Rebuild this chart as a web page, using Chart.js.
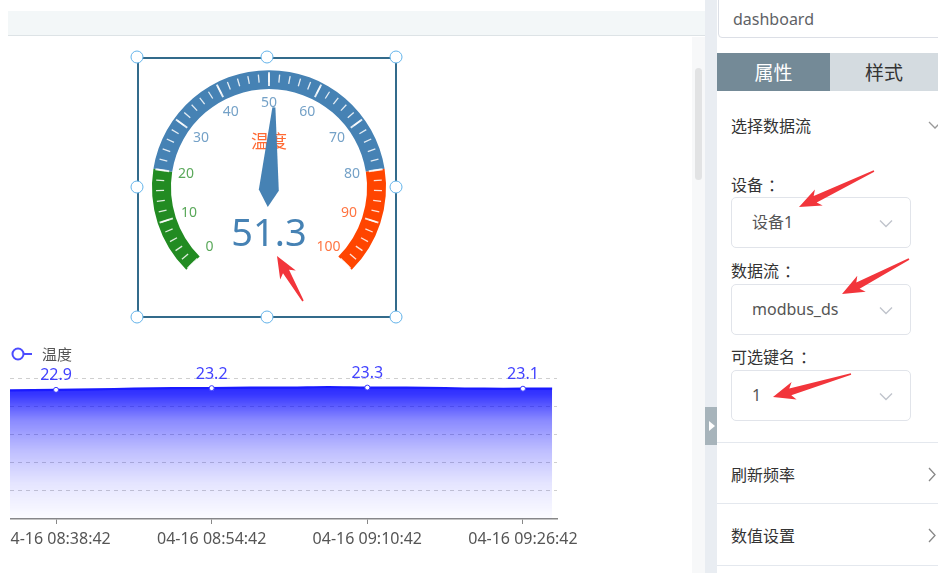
<!DOCTYPE html>
<html lang="zh">
<head>
<meta charset="UTF-8">
<title>dashboard</title>
<script src="https://cdn.jsdelivr.net/npm/chart.js"></script>
<style>
  * { margin: 0; padding: 0; box-sizing: border-box; }
  body {
    width: 938px; height: 573px; overflow: hidden; position: relative;
    background: #fff; color: #333;
    font-family: 'Noto Sans', 'Noto Sans CJK SC', sans-serif;
  }
  .abs { position: absolute; }
  .topbar { left: 8px; top: 11px; width: 697px; height: 25px; background: #f3f7f8; border-bottom: 1px solid #dde3e6; }
  .track { left: 692px; top: 37px; width: 13px; height: 536px; background: #f7f8f9; }
  .thumb { left: 695px; top: 68px; width: 7px; height: 112px; background: #e2e3e4; border-radius: 4px; }
  .gutter { left: 705px; top: 0; width: 12px; height: 573px; background: #e9edf2; }
  .fold { left: 705px; top: 407px; width: 12px; height: 38px; background: #a7b4bb; }
  .fold:after { content: ''; position: absolute; left: 4px; top: 14px; border-left: 6px solid #fff; border-top: 5px solid transparent; border-bottom: 5px solid transparent; }
  .panel { left: 717px; top: 0; width: 221px; height: 573px; background: #fff; }

  .name { left: 718px; top: -4px; width: 240px; height: 42px; border: 1px solid #dcdfe6; border-radius: 4px;
    font-size: 16px; color: #606266; line-height: 44px; padding-left: 14px; }
  .tab { top: 53px; height: 38px; line-height: 38px; text-align: center; font-size: 19px;
    font-family: 'Noto Sans CJK SC', sans-serif; }
  .tab.on { left: 717px; width: 113px; background: #748a97; color: #fff; }
  .tab.off { left: 830px; width: 108px; background: #d4dbe0; color: #333; }
  .lbl { left: 731px; font-size: 16px; line-height: 20px; color: #333; font-family: 'Noto Sans CJK SC', sans-serif; }
  .lbl i { font-style: normal; margin-left: 5px; }
  .sel { left: 731px; width: 180px; height: 51px; border: 1px solid #e1e4ea; border-radius: 5px;
    font-size: 16px; color: #555; line-height: 49px; padding-left: 20px; font-family: 'Noto Sans', 'Noto Sans CJK SC', sans-serif; }
  .sel svg { position: absolute; right: 17px; top: 21px; }
  .hr { left: 717px; width: 221px; height: 1px; background: #e4e8ee; }

  .box { left: 137px; top: 57px; width: 260px; height: 261px; border: 2px solid #336b8b; }
  .handle { width: 13px; height: 13px; border-radius: 50%; background: #fff; border: 1.6px solid #63b3ea; transform: translate(-50%, -50%); }
  #gaugeWrap { left: 140px; top: 41px; width: 258px; height: 258px; }
  #lineClip { left: 10px; top: 335px; width: 590px; height: 230px; overflow: hidden; }
  #lineWrap { position: absolute; left: -30px; top: 0; width: 620px; height: 230px; }
  #arrows { left: 0; top: 0; }
</style>
</head>
<body>
  <div class="abs topbar"></div>
  <div class="abs track"></div>
  <div class="abs thumb"></div>
  <div class="abs gutter"></div>
  <div class="abs fold"></div>
  <div class="abs panel"></div>

  <div class="abs name">dashboard</div>
  <div class="abs tab on">属性</div>
  <div class="abs tab off">样式</div>

  <div class="abs lbl" style="top:115px">选择数据流</div>
  <svg class="abs" style="left:928px;top:120px" width="14" height="10"><polyline points="1,2 7,8 13,2" fill="none" stroke="#999" stroke-width="1.3"/></svg>

  <div class="abs lbl" style="top:174px">设备<i>：</i></div>
  <div class="abs sel" style="top:197px">设备1<svg width="14" height="9"><polyline points="1,1.5 7,7.5 13,1.5" fill="none" stroke="#c0c4cc" stroke-width="1.4"/></svg></div>

  <div class="abs lbl" style="top:260px">数据流<i>：</i></div>
  <div class="abs sel" style="top:284px">modbus_ds<svg width="14" height="9"><polyline points="1,1.5 7,7.5 13,1.5" fill="none" stroke="#c0c4cc" stroke-width="1.4"/></svg></div>

  <div class="abs lbl" style="top:346px">可选键名<i>：</i></div>
  <div class="abs sel" style="top:370px">1<svg width="14" height="9"><polyline points="1,1.5 7,7.5 13,1.5" fill="none" stroke="#c0c4cc" stroke-width="1.4"/></svg></div>

  <div class="abs hr" style="top:442px"></div>
  <div class="abs lbl" style="top:464px">刷新频率</div>
  <svg class="abs" style="left:927px;top:467px" width="9" height="15"><polyline points="2,1 8,7.5 2,14" fill="none" stroke="#888" stroke-width="1.3"/></svg>
  <div class="abs hr" style="top:503px"></div>
  <div class="abs lbl" style="top:525px">数值设置</div>
  <svg class="abs" style="left:927px;top:528px" width="9" height="15"><polyline points="2,1 8,7.5 2,14" fill="none" stroke="#888" stroke-width="1.3"/></svg>
  <div class="abs hr" style="top:565px"></div>

  <div class="abs box"></div>
  <div class="abs" id="gaugeWrap"><canvas id="gauge"></canvas></div>
  <div class="abs handle" style="left:137px;top:57px"></div>
  <div class="abs handle" style="left:267px;top:57px"></div>
  <div class="abs handle" style="left:396px;top:57px"></div>
  <div class="abs handle" style="left:137px;top:187px"></div>
  <div class="abs handle" style="left:396px;top:187px"></div>
  <div class="abs handle" style="left:137px;top:317px"></div>
  <div class="abs handle" style="left:267px;top:317px"></div>
  <div class="abs handle" style="left:396px;top:317px"></div>

  <div class="abs" id="lineClip"><div id="lineWrap"><canvas id="trend"></canvas></div></div>

  <svg class="abs" id="arrows" width="938" height="573"></svg>

<script>
// gauge
const gaugeBands = [20, 80, 100];
const gaugeColors = ['#228b22', '#4682b4', '#ff4500'];
const gaugeTicks = [0, 10, 20, 30, 40, 50, 60, 70, 80, 90, 100];
const gaugeValue = [51.3];
const gaugeTitle = '温度';

// trend line
const timeLabels = [
  '04-16 08:33:58', '04-16 08:38:42', '04-16 08:42:42', '04-16 08:46:42', '04-16 08:50:42',
  '04-16 08:54:42', '04-16 08:58:42', '04-16 09:02:42', '04-16 09:06:42', '04-16 09:10:42',
  '04-16 09:14:42', '04-16 09:18:42', '04-16 09:22:42', '04-16 09:26:42', '04-16 09:29:42'
];
const tempValues = [22.8, 22.9, 23.0, 23.1, 23.2, 23.2, 23.3, 23.3, 23.4, 23.3, 23.3, 23.2, 23.1, 23.1, 23.1];
const shownTimes = ['04-16 08:38:42', '04-16 08:54:42', '04-16 09:10:42', '04-16 09:26:42'];
const yTicks = [0, 5, 10, 15, 20, 25];

const bandSizes = gaugeBands.map((b, i) => b - (i ? gaugeBands[i - 1] : gaugeTicks[0]));

// "MM-DD hh:mm:ss" -> minutes of the day
const toMin = s => {
  const [h, m, sec] = s.split(' ')[1].split(':').map(Number);
  return h * 60 + m + sec / 60;
};
const points = tempValues.map((y, i) => ({ x: toMin(timeLabels[i]), y }));

// ticks, labels, needle, title and value on top of the doughnut
const gaugeDecor = {
  id: 'gaugeDecor',
  afterDatasetsDraw(chart) {
    const arcs = chart.getDatasetMeta(0).data;
    const a0 = arcs[0];
    const cx = a0.x, cy = a0.y, R = a0.outerRadius, r = a0.innerRadius;
    const start = a0.startAngle, end = arcs[arcs.length - 1].endAngle;
    const vmin = gaugeTicks[0], vmax = gaugeTicks[gaugeTicks.length - 1];
    const ang = v => start + (v - vmin) / (vmax - vmin) * (end - start);
    const ctx = chart.ctx;
    ctx.save();

    // minor ticks
    const minor = (gaugeTicks[1] - gaugeTicks[0]) / 5;
    ctx.strokeStyle = 'rgba(255,255,255,0.85)';
    ctx.lineWidth = 1.3;
    for (let v = vmin; v <= vmax + 1e-6; v += minor) {
      const a = ang(v);
      ctx.beginPath();
      ctx.moveTo(cx + Math.cos(a) * (R - 4), cy + Math.sin(a) * (R - 4));
      ctx.lineTo(cx + Math.cos(a) * (R - 12), cy + Math.sin(a) * (R - 12));
      ctx.stroke();
    }
    // major ticks
    ctx.lineWidth = 2;
    gaugeTicks.forEach(v => {
      const a = ang(v);
      ctx.beginPath();
      ctx.moveTo(cx + Math.cos(a) * (R - 2), cy + Math.sin(a) * (R - 2));
      ctx.lineTo(cx + Math.cos(a) * (r + 3), cy + Math.sin(a) * (r + 3));
      ctx.stroke();
    });

    // tick labels
    ctx.font = '14px "Noto Sans", sans-serif';
    ctx.textAlign = 'center';
    ctx.textBaseline = 'middle';
    ctx.globalAlpha = 0.75;
    gaugeTicks.forEach(v => {
      const a = ang(v);
      const bi = gaugeBands.findIndex(b => v <= b);
      ctx.fillStyle = gaugeColors[bi];
      ctx.fillText(String(v), cx + Math.cos(a) * (r - 14), cy + Math.sin(a) * (r - 14));
    });
    ctx.globalAlpha = 1;

    // title
    ctx.font = '18px "Noto Sans CJK SC", sans-serif';
    ctx.fillStyle = 'rgba(255,69,0,0.8)';
    ctx.fillText(gaugeTitle, cx, cy - 46);

    // needle
    const a = ang(gaugeValue[0]);
    const ca = Math.cos(a), sa = Math.sin(a);
    const pts = [[80, -1.5], [80, 1.5], [-3, 10], [-20, 0], [-3, -10]];
    ctx.fillStyle = '#4682b4';
    ctx.beginPath();
    pts.forEach(([u, w], i) => {
      const x = cx + u * ca - w * sa, y = cy + u * sa + w * ca;
      i ? ctx.lineTo(x, y) : ctx.moveTo(x, y);
    });
    ctx.closePath();
    ctx.fill();

    // value
    ctx.font = '38px "Noto Sans", sans-serif';
    ctx.fillStyle = '#4682b4';
    ctx.fillText(gaugeValue[0].toFixed(1), cx, cy + 48);
    ctx.restore();
  }
};

new Chart(document.getElementById('gauge'), {
  type: 'doughnut',
  data: {
    labels: gaugeBands.map(String),
    datasets: [{ data: bandSizes, backgroundColor: gaugeColors, borderWidth: 0 }]
  },
  options: {
    responsive: true,
    maintainAspectRatio: false,
    animation: false,
    rotation: -135,
    circumference: 270,
    radius: 117,
    cutout: '83.8%',
    plugins: { legend: { display: false }, tooltip: { enabled: false } }
  },
  plugins: [gaugeDecor]
});

// value labels and legend for the trend
const lineDecor = {
  id: 'lineDecor',
  afterDatasetsDraw(chart) {
    const ctx = chart.ctx, meta = chart.getDatasetMeta(0), area = chart.chartArea;
    ctx.save();
    ctx.font = '16px "Noto Sans", sans-serif';
    ctx.fillStyle = '#4242ff';
    ctx.textAlign = 'center';
    ctx.textBaseline = 'bottom';
    meta.data.forEach((pt, i) => {
      if (shownTimes.includes(timeLabels[i])) ctx.fillText(tempValues[i].toFixed(1), pt.x, pt.y - 6);
    });
    const lx = area.left + 8, ly = 19;
    ctx.strokeStyle = '#4b4bff';
    ctx.lineWidth = 2;
    ctx.beginPath();
    ctx.arc(lx, ly, 5.5, 0, Math.PI * 2);
    ctx.moveTo(lx + 5.5, ly);
    ctx.lineTo(lx + 14, ly);
    ctx.stroke();
    ctx.font = '15px "Noto Sans CJK SC", sans-serif';
    ctx.fillStyle = '#555';
    ctx.textAlign = 'left';
    ctx.textBaseline = 'middle';
    ctx.fillText(chart.data.datasets[0].label, lx + 24, ly);
    ctx.restore();
  }
};

new Chart(document.getElementById('trend'), {
  type: 'line',
  data: {
    datasets: [{
      label: '温度',
      data: points,
      borderColor: '#1a1aff',
      borderWidth: 2.2,
      tension: 0.4,
      fill: 'origin',
      backgroundColor: (c) => {
        const area = c.chart.chartArea;
        if (!area) return 'rgba(0,0,255,0.4)';
        const g = c.chart.ctx.createLinearGradient(0, area.top, 0, area.bottom);
        g.addColorStop(0, 'rgba(0,0,255,0.9)');
        g.addColorStop(0.12, 'rgba(0,0,255,0.78)');
        g.addColorStop(0.3, 'rgba(0,0,255,0.46)');
        g.addColorStop(0.52, 'rgba(0,0,255,0.25)');
        g.addColorStop(0.75, 'rgba(0,0,255,0.1)');
        g.addColorStop(1, 'rgba(0,0,255,0.01)');
        return g;
      },
      pointRadius: (c) => shownTimes.includes(timeLabels[c.dataIndex]) ? 2.5 : 0,
      pointBackgroundColor: '#fff',
      pointBorderColor: '#3a3aff',
      pointBorderWidth: 1
    }]
  },
  options: {
    responsive: true,
    maintainAspectRatio: false,
    animation: false,
    layout: { padding: { left: 30, right: 43, top: 43, bottom: 0 } },
    plugins: { legend: { display: false }, tooltip: { enabled: false } },
    scales: {
      x: {
        type: 'linear',
        min: points[0].x,
        max: points[points.length - 1].x + 0.5,
        afterBuildTicks: (s) => { s.ticks = shownTimes.map(t => ({ value: toMin(t) })); },
        afterFit: (s) => { s.height = 46; },
        grid: { drawOnChartArea: false, drawTicks: true, tickLength: 5, color: '#888' },
        border: { color: '#888', width: 1.5 },
        ticks: {
          autoSkip: false, maxRotation: 0, padding: 6, color: '#555',
          font: { size: 16, family: 'Noto Sans' },
          callback: (v) => shownTimes.find(t => Math.abs(toMin(t) - v) < 1e-6) || ''
        }
      },
      y: {
        min: yTicks[0],
        max: yTicks[yTicks.length - 1],
        afterFit: (s) => { s.width = 0; },
        ticks: { display: false, stepSize: yTicks[1] - yTicks[0] },
        grid: { drawTicks: false, color: (c) => c.tick.value === yTicks[0] ? 'rgba(0,0,0,0)' : '#cfcfcf' },
        border: { display: false, dash: [4, 4] }
      }
    }
  },
  plugins: [lineDecor]
});

// red pointer arrows drawn over the screenshot
const arrowList = [
  [[277, 256], [303, 301]],
  [[799, 207], [874, 171]],
  [[842, 294], [909, 259]],
  [[773, 397], [851, 374]]
];
const svg = document.getElementById('arrows');
arrowList.forEach(([t, s]) => {
  const dx = s[0] - t[0], dy = s[1] - t[1], len = Math.hypot(dx, dy);
  const ux = dx / len, uy = dy / len, nx = -uy, ny = ux;
  const p = (d, w) => (t[0] + ux * d + nx * w).toFixed(1) + ',' + (t[1] + uy * d + ny * w).toFixed(1);
  const poly = [p(0, 0), p(22, 9), p(18, 3.5), p(len, 0.8), p(len, -0.8), p(18, -3.5), p(22, -9)].join(' ');
  const el = document.createElementNS('http://www.w3.org/2000/svg', 'polygon');
  el.setAttribute('points', poly);
  el.setAttribute('fill', '#f2353b');
  svg.appendChild(el);
});
</script>
</body>
</html>
